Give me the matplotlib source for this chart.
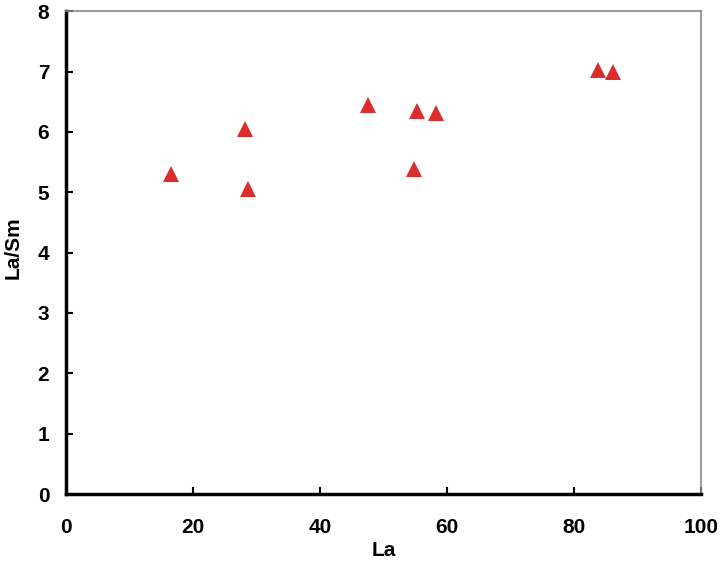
import matplotlib
matplotlib.use("Agg")
import matplotlib.pyplot as plt

# La (ppm) vs La/Sm ratio
la = [16.5, 28.2, 28.7, 47.6, 54.8, 55.3, 58.2, 83.8, 86.1]
la_sm = [5.30, 6.05, 5.06, 6.44, 5.38, 6.35, 6.31, 7.03, 7.00]

x_ticks = [0, 20, 40, 60, 80, 100]
y_ticks = [0, 1, 2, 3, 4, 5, 6, 7, 8]

plt.rcParams['font.family'] = ['Liberation Sans', 'DejaVu Sans']
plt.rcParams['font.weight'] = 'bold'

fig = plt.figure(figsize=(7.22, 5.61), dpi=100)
ax = fig.add_axes([0.0914, 0.1194, 0.8796, 0.8606])

ax.plot(la, la_sm, linestyle='none', marker='^', markersize=11,
        color='#DD2C2C', markeredgewidth=0)

ax.set_xlim(0, 100)
ax.set_ylim(0, 8)
ax.set_xticks(x_ticks)
ax.set_yticks(y_ticks)

ax.spines['left'].set_linewidth(2.5)
ax.spines['bottom'].set_linewidth(2.5)
ax.spines['top'].set_color('#888888')
ax.spines['right'].set_color('#888888')
ax.spines['top'].set_linewidth(1.2)
ax.spines['right'].set_linewidth(1.2)

ax.tick_params(axis='both', direction='in', length=5, width=1.5,
               labelsize=15)
ax.tick_params(axis='x', pad=17)
ax.tick_params(axis='y', pad=12)

ax.set_xlabel('La', fontsize=15, fontweight='bold', labelpad=3)
ax.set_ylabel('La/Sm', fontsize=15, fontweight='bold')
ax.yaxis.set_label_coords(-0.068, 0.51)

fig.savefig('out.png', dpi=100)
